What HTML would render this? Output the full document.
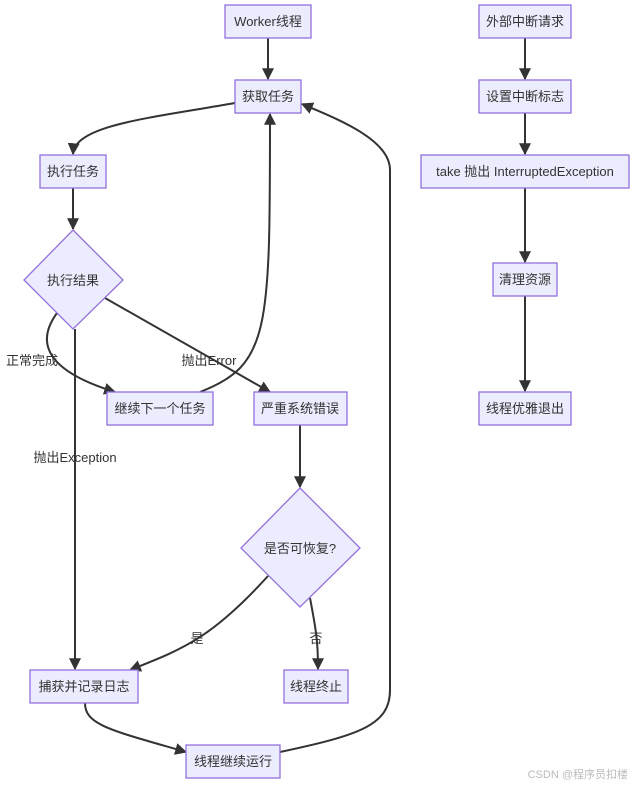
<!DOCTYPE html>
<html><head><meta charset="utf-8"><style>
body{margin:0;background:#fff;width:633px;height:785px;overflow:hidden}
svg{display:block}
text{font-family:"Liberation Sans","Noto Sans CJK SC",sans-serif;font-size:13px;fill:#333}
.n{fill:#ECECFF;stroke:#9370DB;stroke-width:1.3}
.e{fill:none;stroke:#333;stroke-width:2}
</style></head><body>
<svg width="633" height="785" viewBox="0 0 633 785">
<defs><marker id="a" viewBox="0 0 10 10" refX="9" refY="5" markerWidth="6" markerHeight="6" orient="auto"><path d="M0,0L10,5L0,10z" fill="#333"/></marker></defs>
<g class="e" marker-end="url(#a)">
<path d="M268,38V79"/>
<path d="M235,103C150,118 75,125 73,154"/>
<path d="M73,188V229"/>
<path d="M57,313C30,350 60,375 115,392"/>
<path d="M105,298L270,392"/>
<path d="M75,329V669"/>
<path d="M200,392C270,365 270,330 270,114"/>
<path d="M300,425V487"/>
<path d="M268,576C210,640 180,650 130,670"/>
<path d="M310,598C316,630 318,640 318,669"/>
<path d="M85,703C85,725 110,730 186,752"/>
<path d="M280,752C360,735 390,725 390,690V170C390,140 340,120 302,104"/>
<path d="M525,38V79"/>
<path d="M525,113V154"/>
<path d="M525,188V262"/>
<path d="M525,296V391"/>
</g>
<rect class="n" x="225" y="5" width="86" height="33"/><text x="268" y="26" text-anchor="middle">Worker线程</text>
<rect class="n" x="235" y="80" width="66" height="33"/><text x="268" y="101" text-anchor="middle">获取任务</text>
<rect class="n" x="40" y="155" width="66" height="33"/><text x="73" y="176" text-anchor="middle">执行任务</text>
<polygon class="n" points="73,230 123,280 73,329 24,280"/><text x="73" y="285" text-anchor="middle">执行结果</text>
<rect class="n" x="107" y="392" width="106" height="33"/><text x="160" y="413" text-anchor="middle">继续下一个任务</text>
<rect class="n" x="254" y="392" width="93" height="33"/><text x="300" y="413" text-anchor="middle">严重系统错误</text>
<polygon class="n" points="300,488 360,548 300,607 241,548"/><text x="300" y="553" text-anchor="middle">是否可恢复?</text>
<rect class="n" x="30" y="670" width="108" height="33"/><text x="84" y="691" text-anchor="middle">捕获并记录日志</text>
<rect class="n" x="284" y="670" width="64" height="33"/><text x="316" y="691" text-anchor="middle">线程终止</text>
<rect class="n" x="186" y="745" width="94" height="33"/><text x="233" y="766" text-anchor="middle">线程继续运行</text>
<rect class="n" x="479" y="5" width="92" height="33"/><text x="525" y="26" text-anchor="middle">外部中断请求</text>
<rect class="n" x="479" y="80" width="92" height="33"/><text x="525" y="101" text-anchor="middle">设置中断标志</text>
<rect class="n" x="421" y="155" width="208" height="33"/><text x="525" y="176" text-anchor="middle">take 抛出 InterruptedException</text>
<rect class="n" x="493" y="263" width="64" height="33"/><text x="525" y="284" text-anchor="middle">清理资源</text>
<rect class="n" x="479" y="392" width="92" height="33"/><text x="525" y="413" text-anchor="middle">线程优雅退出</text>
<text x="32" y="365" text-anchor="middle">正常完成</text>
<text x="209" y="365" text-anchor="middle">抛出Error</text>
<text x="75" y="462" text-anchor="middle">抛出Exception</text>
<text x="197" y="643" text-anchor="middle">是</text>
<text x="316" y="643" text-anchor="middle">否</text>
<text x="628" y="778" text-anchor="end" style="font-size:11px;fill:#bbb">CSDN @程序员扣楼</text>
</svg>
</body></html>
